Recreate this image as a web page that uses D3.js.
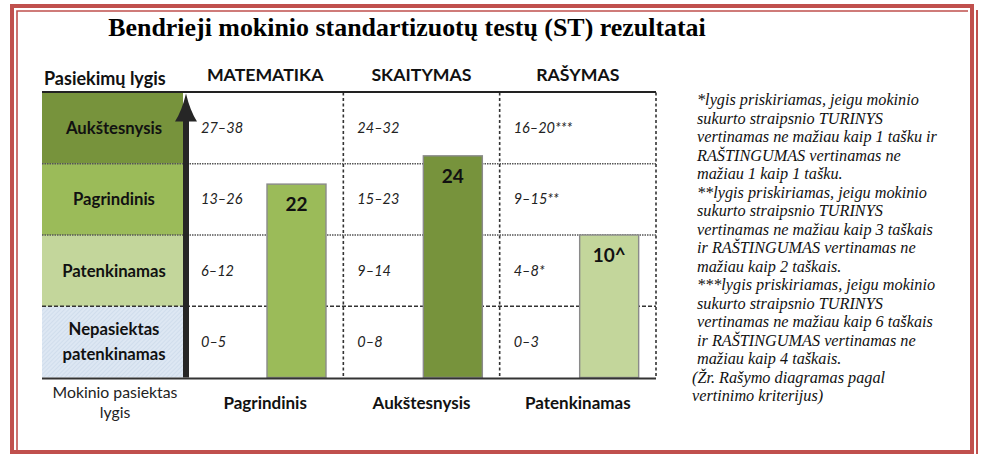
<!DOCTYPE html>
<html>
<head>
<meta charset="utf-8">
<script src="https://cdn.jsdelivr.net/npm/d3@7"></script>
<style>
  body { margin: 0; background: #fff; }
  svg { display: block; }
</style>
</head>
<body>
<div id="chart"></div>
<script>
// data
var title = "Bendrieji mokinio standartizuotų testų (ST) rezultatai";
var subjects = ["MATEMATIKA", "SKAITYMAS", "RAŠYMAS"];
// levels, bottom to top
var levels = ["Nepasiektas patenkinamas", "Patenkinamas", "Pagrindinis", "Aukštesnysis"];
var levelLines = [["Nepasiektas", "patenkinamas"], ["Patenkinamas"], ["Pagrindinis"], ["Aukštesnysis"]];
var rangeLabels = [
  ["0–5", "6–12", "13–26", "27–38"],
  ["0–8", "9–14", "15–23", "24–32"],
  ["0–3", "4–8*", "9–15**", "16–20***"]
];
var scores = [22, 24, 10];
var scoreLabels = ["22", "24", "10^"];
var achieved = ["Pagrindinis", "Aukštesnysis", "Patenkinamas"];
var notes = [
  "*lygis priskiriamas, jeigu mokinio",
  "sukurto straipsnio TURINYS",
  "vertinamas ne mažiau kaip 1 tašku ir",
  "RAŠTINGUMAS vertinamas ne",
  "mažiau 1 kaip 1 tašku.",
  "**lygis priskiriamas, jeigu mokinio",
  "sukurto straipsnio TURINYS",
  "vertinamas ne mažiau kaip 3 taškais",
  "ir RAŠTINGUMAS vertinamas ne",
  "mažiau kaip 2 taškais.",
  "***lygis priskiriamas, jeigu mokinio",
  "sukurto straipsnio TURINYS",
  "vertinamas ne mažiau kaip 6 taškais",
  "ir RAŠTINGUMAS vertinamas ne",
  "mažiau kaip 4 taškais.",
  "(Žr. Rašymo diagramas pagal",
  "vertinimo kriterijus)"
];

// styles
var levelColors = ["url(#hatch)", "#c3d69b", "#9bbb59", "#77933c"];
var red = "#c0504d";
var sans = "Lato, 'Open Sans', sans-serif";
var serif = "'Liberation Serif', 'DejaVu Serif', serif";

var svgWidth = 982, svgHeight = 454;

var svg = d3.select("#chart").append("svg")
  .attr("width", svgWidth)
  .attr("height", svgHeight);

var defs = svg.append("defs");
var hatch = defs.append("pattern")
  .attr("id", "hatch")
  .attr("patternUnits", "userSpaceOnUse")
  .attr("width", 3).attr("height", 3)
  .attr("patternTransform", "rotate(45)");
hatch.append("rect").attr("width", 3).attr("height", 3).attr("fill", "#dde7f3");
hatch.append("line").attr("x1", 0).attr("y1", 0).attr("x2", 0).attr("y2", 3)
  .attr("stroke", "#c4d3e6").attr("stroke-width", 1);

// page border
svg.append("rect")
  .attr("x", 12).attr("y", 6).attr("width", 960).attr("height", 446)
  .attr("fill", "none").attr("stroke", red).attr("stroke-width", 4);
svg.append("path")
  .attr("d", "M17,454 L17,11 L968,11")
  .attr("fill", "none").attr("stroke", red).attr("stroke-width", 1.6);
svg.append("line")
  .attr("x1", 977).attr("y1", 10).attr("x2", 977).attr("y2", 454)
  .attr("stroke", red).attr("stroke-width", 2);

// fit a text to a width by adjusting its font size
function fitWidth(sel, w) {
  var size = parseFloat(sel.attr("font-size"));
  var len = sel.node().getComputedTextLength();
  sel.attr("font-size", size * w / len);
}

// title
var t = svg.append("text")
  .attr("x", 407).attr("y", 36)
  .attr("text-anchor", "middle")
  .attr("font-family", serif).attr("font-weight", "bold")
  .attr("font-size", 21).attr("fill", "#000")
  .text(title);
fitWidth(t, 598);

// scales
var left = 42, right = 656;
var yScale = d3.scaleLinear().domain([0, levels.length]).range([377.5, 92.5]);
var xScale = d3.scaleBand().domain(subjects).range([187, right]);
var bandH = yScale(0) - yScale(1);

// left level blocks
var levelG = svg.append("g");
levelG.selectAll("rect")
  .data(levels)
  .enter()
  .append("rect")
  .attr("x", left)
  .attr("y", (d, i) => yScale(i + 1))
  .attr("width", 183 - left)
  .attr("height", bandH)
  .attr("fill", (d, i) => levelColors[i]);

levelG.selectAll("text")
  .data(levels)
  .enter()
  .append("text")
  .attr("x", 114)
  .attr("y", (d, i) => yScale(i + 0.5))
  .attr("text-anchor", "middle")
  .attr("font-family", sans).attr("font-weight", "bold")
  .attr("font-size", 16.7).attr("fill", "#111")
  .each(function(d, i) {
    var lines = levelLines[i];
    var sel = d3.select(this);
    lines.forEach(function(l, k) {
      sel.append("tspan")
        .attr("x", 114)
        .attr("dy", k === 0 ? (6 - (lines.length - 1) * 12.5) : 25)
        .text(l);
    });
  });

// row separators
[1, 2, 3].forEach(function(i) {
  svg.append("line")
    .attr("x1", left).attr("x2", right)
    .attr("y1", yScale(i)).attr("y2", yScale(i))
    .attr("stroke", i === 1 ? "#333" : "#555")
    .attr("stroke-width", i === 1 ? 1.6 : 1.4)
    .attr("stroke-dasharray", i === 1 ? "4,2" : "1.5,1");
});

// column separators
subjects.slice(1).map(s => xScale(s)).concat([right]).forEach(function(x) {
  svg.append("line")
    .attr("x1", x).attr("x2", x)
    .attr("y1", yScale(levels.length)).attr("y2", yScale(0))
    .attr("stroke", "#333").attr("stroke-width", 1.6)
    .attr("stroke-dasharray", "3,2.5");
});

// range labels
subjects.forEach(function(s, j) {
  svg.append("g").selectAll("text")
    .data(rangeLabels[j])
    .enter()
    .append("text")
    .attr("x", xScale(s) + 14)
    .attr("y", (d, i) => yScale(i + 0.5) + 5)
    .attr("font-family", sans).attr("font-style", "italic")
    .attr("font-size", 14.5).attr("fill", "#222")
    .text(d => d);
});

// bar height in level units
function barValue(j) {
  var L = levels.indexOf(achieved[j]);
  var r = rangeLabels[j][L].match(/\d+/g).map(Number);
  var lo = r[0], hi = r[1];
  var frac = (scores[j] >= lo && scores[j] <= hi) ? (scores[j] - lo + 1) / (hi - lo + 1) : 1;
  return L + frac;
}

var barW = 59;
var bars = svg.append("g").selectAll("rect")
  .data(subjects)
  .enter()
  .append("rect")
  .attr("x", (d, j) => xScale(d) + 80)
  .attr("y", (d, j) => yScale(barValue(j)))
  .attr("width", barW)
  .attr("height", (d, j) => yScale(0) - yScale(barValue(j)))
  .attr("fill", (d, j) => levelColors[levels.indexOf(achieved[j])])
  .attr("stroke", "#8a8a8a").attr("stroke-width", 1.4);

svg.append("g").selectAll("text")
  .data(subjects)
  .enter()
  .append("text")
  .attr("x", (d, j) => xScale(d) + 80 + barW / 2)
  .attr("y", (d, j) => yScale(barValue(j)) + 27)
  .attr("text-anchor", "middle")
  .attr("font-family", sans).attr("font-weight", "bold")
  .attr("font-size", 19).attr("fill", "#111")
  .text((d, j) => scoreLabels[j]);

// top and bottom rules
svg.append("line")
  .attr("x1", left).attr("x2", right)
  .attr("y1", 92).attr("y2", 92)
  .attr("stroke", "#222").attr("stroke-width", 2);
svg.append("line")
  .attr("x1", left).attr("x2", right)
  .attr("y1", 378.5).attr("y2", 378.5)
  .attr("stroke", "#333").attr("stroke-width", 2);

// arrow
var ax = 186;
var top0 = yScale(levels.length);
svg.append("rect")
  .attr("x", ax - 3).attr("y", top0 + 20)
  .attr("width", 6).attr("height", yScale(0) - top0 - 20)
  .attr("fill", "#262626");
svg.append("path")
  .attr("d", "M" + ax + "," + (top0 + 1) +
             " Q" + (ax + 4) + "," + (top0 + 18) + " " + (ax + 11) + "," + (top0 + 29) +
             " L" + (ax - 11) + "," + (top0 + 29) +
             " Q" + (ax - 4) + "," + (top0 + 18) + " " + ax + "," + (top0 + 1) + "Z")
  .attr("fill", "#262626");

// headers
svg.append("text")
  .attr("x", 44).attr("y", 85)
  .attr("font-family", sans).attr("font-weight", "bold")
  .attr("font-size", 18).attr("fill", "#111")
  .text("Pasiekimų lygis");

svg.append("g").selectAll("text")
  .data(subjects)
  .enter()
  .append("text")
  .attr("x", d => xScale(d) + xScale.bandwidth() / 2)
  .attr("y", 81)
  .attr("text-anchor", "middle")
  .attr("font-family", sans).attr("font-weight", "bold")
  .attr("font-size", 17.7).attr("fill", "#111")
  .text(d => d);

// bottom labels
svg.append("text")
  .attr("x", 115).attr("y", 398)
  .attr("text-anchor", "middle")
  .attr("font-family", sans).attr("font-size", 15.8).attr("fill", "#222")
  .text("Mokinio pasiektas");
svg.append("text")
  .attr("x", 115).attr("y", 418)
  .attr("text-anchor", "middle")
  .attr("font-family", sans).attr("font-size", 15.8).attr("fill", "#222")
  .text("lygis");

svg.append("g").selectAll("text")
  .data(subjects)
  .enter()
  .append("text")
  .attr("x", d => xScale(d) + xScale.bandwidth() / 2)
  .attr("y", 409)
  .attr("text-anchor", "middle")
  .attr("font-family", sans).attr("font-weight", "bold")
  .attr("font-size", 17).attr("fill", "#111")
  .text((d, j) => achieved[j]);

// notes
var noteG = svg.append("g");
noteG.selectAll("text")
  .data(notes)
  .enter()
  .append("text")
  .attr("x", (d, i) => i >= 15 ? 692 : 697)
  .attr("y", (d, i) => 105 + i * 18.5)
  .attr("font-family", serif).attr("font-style", "italic")
  .attr("font-size", 15).attr("fill", "#111")
  .text(d => d);
var longest = noteG.selectAll("text").filter((d, i) => i === 2);
var scaleF = 240 / longest.node().getComputedTextLength();
noteG.selectAll("text").attr("font-size", 15 * scaleF);
</script>
</body>
</html>
